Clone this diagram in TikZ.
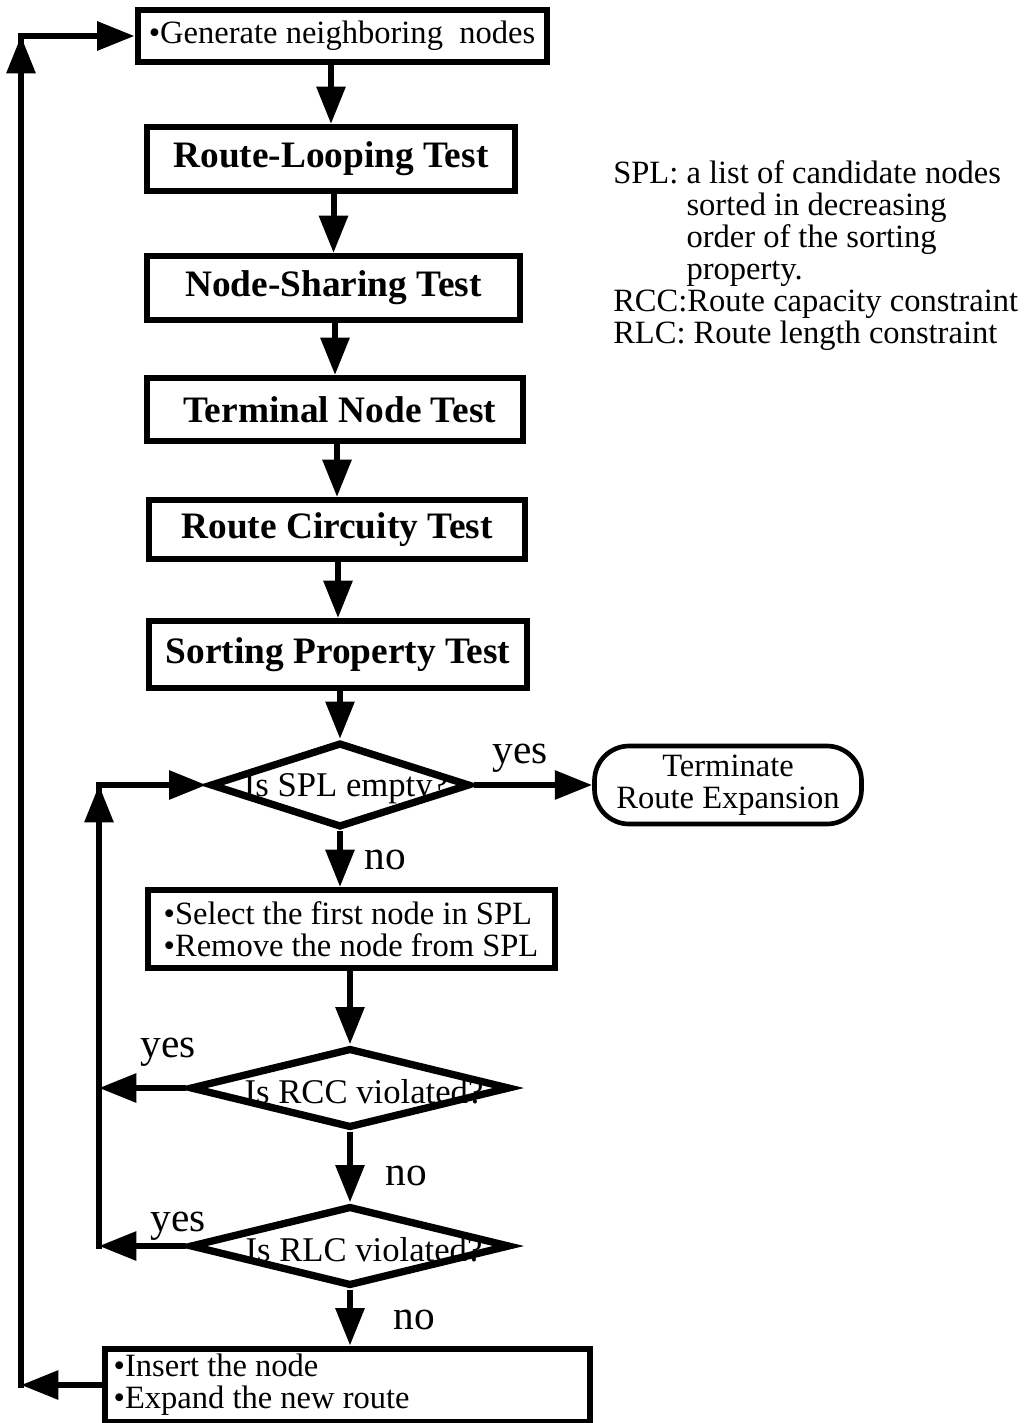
\documentclass[tikz,border=0pt]{standalone}
\usepackage{fontspec}
\setmainfont{Liberation Serif}
\usetikzlibrary{shapes.geometric,arrows.meta}
\tikzset{
  box/.style={draw, line width=4.5pt, inner sep=0pt, align=center},
  dia/.style={draw, diamond, line width=5.5pt, inner sep=0pt},
  arr/.style={line width=4.5pt, -{Triangle[length=28pt,width=21pt]}},
  plainline/.style={line width=4.5pt, line cap=rect},
  bt/.style={font=\fontsize{28}{30}\selectfont\bfseries},
  rt/.style={font=\fontsize{24.4}{24}\selectfont},
  dt/.style={font=\fontsize{26}{26}\selectfont, inner sep=0pt},
  lab/.style={font=\fontsize{31}{31}\selectfont, inner sep=0pt},
}
\begin{document}
\begin{tikzpicture}[x=0.75pt,y=-0.75pt]
\useasboundingbox (0,0) rectangle (1024,1423);
% boxes
\node[box, rt, minimum width=306.75pt, minimum height=39pt] (gen) at (342,36) {\textbullet Generate neighboring\ \ nodes};
\node[box, bt, minimum width=276pt, minimum height=48pt] (rl) at (331,159) {Route-Looping Test};
\node[box, bt, minimum width=279.75pt, minimum height=48pt] (ns) at (333.5,288) {Node-Sharing Test};
\node[box, bt, minimum width=282pt, minimum height=47.25pt] (tn) at (335,409.5) {\ Terminal Node Test};
\node[box, bt, minimum width=282pt, minimum height=44.25pt] (rc) at (337,529.5) {Route Circuity Test};
\node[box, bt, minimum width=283.5pt, minimum height=50.25pt] (sp) at (338,654.5) {Sorting Property Test};
% decisions
\node[dia, minimum width=195pt, minimum height=63.75pt] (spl) at (340,785) {};
\node[dt] (spltxt) at (346,789) {Is SPL empty?};
\node[box, rt, line width=3.5pt, rounded corners=26pt, minimum width=200.25pt, minimum height=58.5pt] (term) at (728,785) {Terminate\\Route Expansion};
\node[box, rt, align=left, minimum width=305.25pt, minimum height=58.5pt] (sel) at (351,929) {\textbullet Select the first node in SPL\\\textbullet Remove the node from SPL};
\node[dia, minimum width=240pt, minimum height=60pt] (rcc) at (350,1088) {};
\node[dt] (rcctxt) at (364,1092) {Is RCC violated?};
\node[dia, minimum width=240pt, minimum height=60pt] (rlc) at (350,1246) {};
\node[dt] (rlctxt) at (364,1250) {Is RLC violated?};
\node[box, rt, minimum width=363.75pt, minimum height=54.75pt, text width=350pt, align=flush left] (ins) at (347,1385) {\textbullet Insert the node\\\textbullet Expand the new route};
% legend
\node[rt, anchor=north west, align=left, inner sep=0pt] (legend) at (613,160) {SPL: a list of candidate nodes\\\hphantom{SPL:\ }sorted in decreasing\\\hphantom{SPL:\ }order of the sorting\\\hphantom{SPL:\ }property.\\RCC:Route capacity constraint\\RLC: Route length constraint};
% labels
\node[lab] (yes1) at (520,758) {yes};
\node[lab] (no1) at (385,860) {no};
\node[lab] (yes2) at (168,1052) {yes};
\node[lab] (no2) at (406,1176) {no};
\node[lab] (yes3) at (178,1226) {yes};
\node[lab] (no3) at (414,1320) {no};
% main flow
\draw[arr] (gen.south -| rl.north) -- (rl.north);
\draw[arr] (rl.south -| ns.north) -- (ns.north);
\draw[arr] (ns.south -| tn.north) -- (tn.north);
\draw[arr] (tn.south -| rc.north) -- (rc.north);
\draw[arr] (rc.south -| sp.north) -- (sp.north);
\draw[arr] (sp.south -| spl.north) -- (spl.north);
\draw[arr] (spl.east) -- (term.west);
\draw[arr] (spl.south) -- (spl.south |- sel.north);
\draw[arr] (sel.south -| rcc.north) -- (rcc.north);
\draw[arr] (rcc.south) -- (rlc.north);
\draw[arr] (rlc.south) -- (rlc.south |- ins.north);
% inner loop
\coordinate (m2) at (99,785);
\coordinate (m1) at (rlc.west -| m2);
\draw[arr] (rcc.west) -- (rcc.west -| m2);
\draw[arr] (rlc.west) -- (m1);
\draw[plainline] (m1) -- (m2);
\draw[arr] (m1) -- (m2);
\draw[arr] (m2) -- (spl.west);
% outer loop
\coordinate (l1) at (21,1385);
\coordinate (l2) at (21,36);
\draw[arr] (ins.west) -- (l1);
\draw[plainline] (l1) -- (l2);
\draw[arr] (l1) -- (l2);
\draw[arr] (l2) -- (gen.west);
\end{tikzpicture}
\end{document}
